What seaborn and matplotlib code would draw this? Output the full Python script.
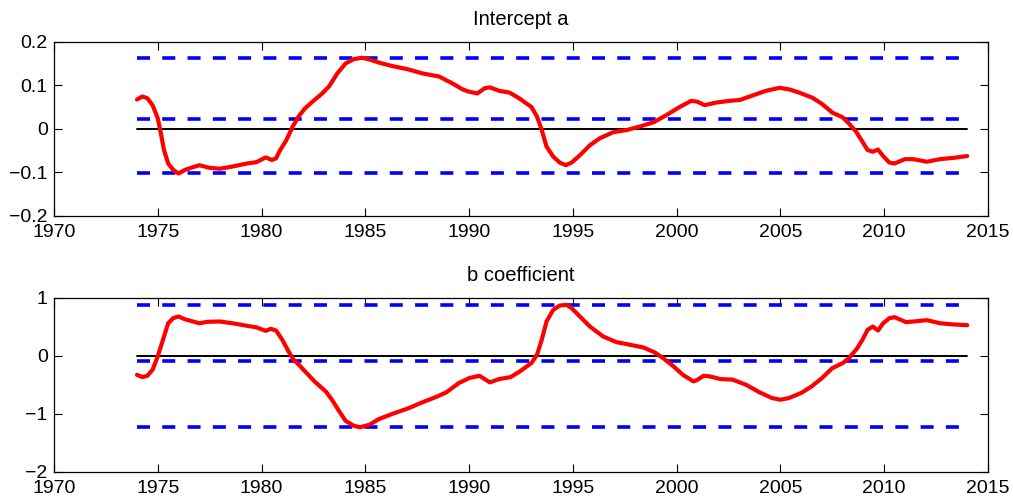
import numpy as np
import pandas as pd
import matplotlib
matplotlib.use("Agg")
import matplotlib.pyplot as plt
import seaborn as sns

# --- data -----------------------------------------------------------------
years_a = [1974.0, 1974.25, 1974.5, 1974.75, 1975.0, 1975.15, 1975.3, 1975.5, 1975.75,
           1976.0, 1976.3, 1976.6, 1977.0, 1977.5, 1978.0, 1978.6, 1979.3, 1979.75,
           1980.2, 1980.5, 1980.7, 1980.9, 1981.2, 1981.5, 1981.8, 1982.1, 1982.55,
           1982.9, 1983.25, 1983.65, 1984.05, 1984.45, 1984.85, 1985.2, 1985.65,
           1986.3, 1987.1, 1987.75, 1988.55, 1989.2, 1989.7, 1990.0, 1990.4, 1990.75,
           1991.0, 1991.45, 1991.95, 1992.44, 1993.0, 1993.27, 1993.5, 1993.73,
           1994.05, 1994.37, 1994.66, 1994.94, 1995.34, 1995.82, 1996.3, 1996.95,
           1997.6, 1998.23, 1998.9, 1999.5, 2000.15, 2000.7, 2001.0, 2001.35, 2001.9,
           2002.55, 2003.05, 2003.7, 2004.3, 2004.97, 2005.45, 2005.9, 2006.55,
           2007.0, 2007.5, 2008.0, 2008.3, 2008.65, 2008.95, 2009.2, 2009.45, 2009.7,
           2009.95, 2010.25, 2010.5, 2011.0, 2011.4, 2012.05, 2012.7, 2013.35, 2014.0]
intercept_a = [0.067, 0.074, 0.070, 0.054, 0.024, -0.011, -0.049, -0.080, -0.095,
               -0.103, -0.095, -0.090, -0.084, -0.090, -0.092, -0.087, -0.080, -0.077,
               -0.066, -0.072, -0.068, -0.049, -0.026, 0.005, 0.029, 0.047, 0.066,
               0.080, 0.097, 0.127, 0.150, 0.160, 0.163, 0.159, 0.152,
               0.144, 0.136, 0.127, 0.120, 0.104, 0.090, 0.085, 0.081, 0.093,
               0.095, 0.087, 0.083, 0.069, 0.050, 0.028, -0.003, -0.041,
               -0.064, -0.078, -0.084, -0.078, -0.061, -0.038, -0.022, -0.008,
               -0.003, 0.005, 0.015, 0.031, 0.050, 0.064, 0.062, 0.054, 0.060,
               0.064, 0.066, 0.077, 0.087, 0.094, 0.090, 0.083, 0.071,
               0.057, 0.037, 0.026, 0.012, -0.007, -0.030, -0.049, -0.053, -0.048,
               -0.063, -0.078, -0.080, -0.070, -0.070, -0.076, -0.070, -0.067, -0.063]

years_b = [1974.0, 1974.25, 1974.5, 1974.75, 1975.0, 1975.25, 1975.5, 1975.75, 1976.0,
           1976.3, 1976.6, 1977.0, 1977.4, 1978.0, 1978.6, 1979.3, 1979.75, 1980.2,
           1980.45, 1980.7, 1981.0, 1981.3, 1981.55, 1981.8, 1982.1, 1982.55, 1983.1,
           1983.4, 1983.75, 1984.05, 1984.45, 1984.75, 1985.2, 1985.65, 1986.3,
           1987.1, 1987.75, 1988.4, 1988.9, 1989.5, 1990.0, 1990.5, 1991.0, 1991.45,
           1992.0, 1992.44, 1993.0, 1993.27, 1993.5, 1993.73, 1994.05, 1994.37,
           1994.7, 1994.94, 1995.34, 1995.82, 1996.46, 1997.1, 1997.75, 1998.4,
           1998.95, 1999.35, 1999.85, 2000.3, 2000.8, 2000.95, 2001.3, 2001.6, 2002.1,
           2002.7, 2003.35, 2004.0, 2004.6, 2005.0, 2005.4, 2006.0, 2006.5, 2007.0,
           2007.5, 2008.0, 2008.3, 2008.7, 2008.95, 2009.2, 2009.45, 2009.7, 2009.95,
           2010.25, 2010.5, 2011.05, 2011.4, 2012.05, 2012.7, 2013.35, 2014.0]
b_coef = [-0.327, -0.367, -0.344, -0.240, -0.010, 0.275, 0.560, 0.650, 0.676,
          0.630, 0.600, 0.560, 0.585, 0.590, 0.560, 0.516, 0.490, 0.430,
          0.464, 0.435, 0.275, 0.075, -0.070, -0.155, -0.270, -0.440, -0.616,
          -0.760, -0.960, -1.120, -1.206, -1.230, -1.186, -1.090, -1.000,
          -0.900, -0.800, -0.710, -0.630, -0.470, -0.384, -0.344, -0.458, -0.400,
          -0.367, -0.270, -0.126, 0.017, 0.275, 0.590, 0.790, 0.865,
          0.877, 0.820, 0.676, 0.504, 0.332, 0.235, 0.190, 0.143,
          0.057, -0.040, -0.183, -0.327, -0.440, -0.424, -0.344, -0.355, -0.400,
          -0.410, -0.500, -0.630, -0.728, -0.756, -0.728, -0.640, -0.527, -0.384,
          -0.212, -0.126, -0.040, 0.130, 0.275, 0.447, 0.504, 0.435, 0.560,
          0.648, 0.665, 0.580, 0.590, 0.613, 0.560, 0.539, 0.527]

band_years = [1974, 2014]
bands_a = [0.162, 0.022, -0.103]
bands_b = [0.88, -0.09, -1.23]

titles = ["Intercept a", "b coefficient"]
x_ticks = list(range(1970, 2016, 5))
y_ticks_a = [-0.2, -0.1, 0, 0.1, 0.2]
y_ticks_b = [-2, -1, 0, 1]

# --- style ----------------------------------------------------------------
sns.set_style("ticks")
plt.rcParams["font.family"] = ["Liberation Sans", "DejaVu Sans"]
plt.rcParams["axes.linewidth"] = 0.9
plt.rcParams["xtick.direction"] = "in"
plt.rcParams["ytick.direction"] = "in"
plt.rcParams["text.color"] = "black"
plt.rcParams["axes.titlecolor"] = "black"

fig = plt.figure(figsize=(10.13, 5.01), dpi=100)
ax_a = fig.add_axes([0.0533, 0.5695, 0.922, 0.3473])
ax_b = fig.add_axes([0.0533, 0.0579, 0.922, 0.3479])


def draw_panel(ax, yrs, vals, bands, title, yticks, ylim):
    # zero reference line
    sns.lineplot(x=band_years, y=[0, 0], ax=ax, color="black", linewidth=1.4)
    # confidence bands
    for level in bands:
        ln = sns.lineplot(x=band_years, y=[level, level], ax=ax, color="#0000ff",
                          linewidth=2.6)
        ln.lines[-1].set_dashes([3.6, 3.4])
        ln.lines[-1].set_dash_capstyle("butt")
    # coefficient path
    sns.lineplot(x=yrs, y=vals, ax=ax, color="#ff0000", linewidth=3.0)
    ax.lines[-1].set_solid_joinstyle("round")
    ax.lines[-1].set_solid_capstyle("round")

    ax.set_xlim(1970, 2015)
    ax.set_ylim(*ylim)
    ax.set_xticks(x_ticks)
    ax.set_yticks(yticks)
    ax.set_yticklabels([("%g" % t).replace("-", "\u2212") for t in yticks])
    ax.tick_params(axis="both", which="both", top=True, right=True, length=6,
                   width=0.8, labelsize=14, colors="black", pad=4.5)
    ax.tick_params(axis="x", pad=6)
    for s in ax.spines.values():
        s.set_visible(True)
        s.set_color("black")
    ax.set_xlabel("")
    ax.set_ylabel("")
    ax.set_title(title, fontsize=14.5, pad=12, color="black")


draw_panel(ax_a, years_a, intercept_a, bands_a, titles[0], y_ticks_a, (-0.2, 0.2))
draw_panel(ax_b, years_b, b_coef, bands_b, titles[1], y_ticks_b, (-2, 1))

fig.savefig("out.png", dpi=100)
